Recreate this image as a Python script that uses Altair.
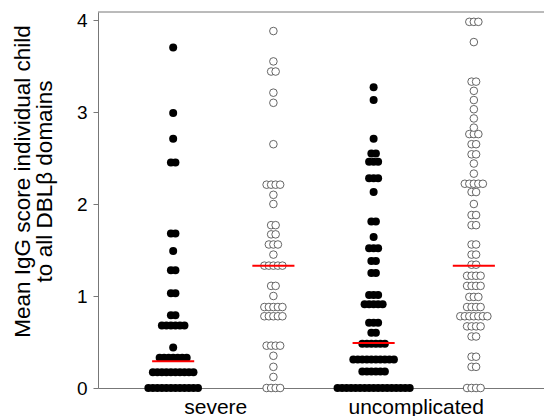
import altair as alt
import pandas as pd

# ---- data ----
group_positions = [0, 1, 2, 3]
group_kinds = ["filled", "open", "filled", "open"]

severe_filled_values = [0.0, 0.17, 0.33, 0.44, 0.68, 0.79, 1.03, 1.28, 1.49, 1.68, 2.45, 2.71, 2.99, 3.70]
severe_filled_counts = [12, 10, 7, 1, 6, 2, 2, 2, 1, 2, 2, 1, 1, 1]

severe_open_values = [0.0, 0.12, 0.23, 0.35, 0.46, 0.78, 0.88, 1.0, 1.11, 1.33, 1.45, 1.56, 1.67, 1.77,
                      2.0, 2.10, 2.21, 2.65, 3.10, 3.21, 3.44, 3.55, 3.88]
severe_open_counts = [4, 1, 1, 1, 4, 5, 5, 1, 2, 5, 1, 3, 2, 2,
                      1, 1, 4, 1, 1, 1, 2, 1, 1]

uncomp_filled_values = [0.0, 0.18, 0.31, 0.48, 0.60, 0.71, 0.91, 1.01, 1.25, 1.38, 1.52, 1.64, 1.81,
                        2.13, 2.28, 2.46, 2.55, 2.71, 3.13, 3.27]
uncomp_filled_counts = [17, 6, 10, 6, 2, 3, 5, 3, 2, 2, 3, 1, 2,
                        1, 3, 3, 2, 1, 1, 1]

uncomp_open_values = [0.0, 0.23, 0.34, 0.56, 0.67, 0.78, 0.88, 0.99, 1.11, 1.22, 1.34, 1.45, 1.56,
                      1.77, 1.88, 2.0, 2.13, 2.22, 2.33, 2.44, 2.54, 2.65, 2.76, 2.83, 2.93,
                      3.03, 3.13, 3.23, 3.33, 3.76, 3.98]
uncomp_open_counts = [4, 2, 2, 2, 4, 7, 4, 3, 4, 4, 2, 2, 2,
                      2, 2, 1, 2, 5, 1, 1, 2, 2, 3, 1, 1,
                      1, 1, 1, 2, 1, 3]

median_values = [0.29, 1.33, 0.49, 1.33]

x_label_positions = [0.42, 2.42]
x_labels = ["severe", "uncomplicated"]
y_ticks = [0, 1, 2, 3, 4]
y_title = ["Mean IgG score individual child", "to all DBL\u03b2 domains"]

# ---- build tables ----
all_values = [severe_filled_values, severe_open_values, uncomp_filled_values, uncomp_open_values]
all_counts = [severe_filled_counts, severe_open_counts, uncomp_filled_counts, uncomp_open_counts]
rows = []
for g, kind, vals, cnts in zip(group_positions, group_kinds, all_values, all_counts):
    for v, c in zip(vals, cnts):
        for _ in range(c):
            rows.append({"group": g, "kind": kind, "value": v})
df = pd.DataFrame(rows)
med_df = pd.DataFrame({"group": group_positions, "median": median_values})

FONT = "Liberation Sans"
AX = "#777777"
YMAX = 4.087

x_scale = alt.Scale(domain=[-0.75, 3.7], nice=False, zero=False)
y_scale = alt.Scale(domain=[0, YMAX], nice=False, zero=True)

label_expr = f"datum.value < 1 ? '{x_labels[0]}' : '{x_labels[1]}'"
x_axis = alt.Axis(values=x_label_positions, labelExpr=label_expr, ticks=False, grid=False,
                  domainColor=AX, labelFontSize=21, labelFont=FONT, labelColor="black",
                  labelPadding=8, title=None, labelOverlap=False)
y_axis = alt.Axis(values=y_ticks, format="d", grid=False, domainColor=AX, tickColor=AX,
                  tickSize=5, labelFontSize=19, labelFont=FONT, labelColor="black",
                  labelPadding=6, title=y_title, titleFont=FONT, titleFontSize=22.5,
                  titleFontWeight="normal", titleColor="black", titleAngle=270,
                  titleAlign="center", titleBaseline="middle", titleX=-76, titleY=169,
                  titleLineHeight=22.5)

base = alt.Chart(df).transform_window(
    idx="row_number()", groupby=["group", "value"]
).transform_joinaggregate(
    n="count()", groupby=["group", "value"]
).transform_calculate(
    slot="datum.idx - (datum.n + 1) / 2",
    xpos="datum.group + (datum.idx - (datum.n + 1) / 2) * 0.045"
)

filled = base.transform_filter("datum.kind == 'filled'").mark_circle(
    color="black", size=64, opacity=1
).encode(
    x=alt.X("xpos:Q", scale=x_scale, axis=x_axis),
    y=alt.Y("value:Q", scale=y_scale, axis=y_axis),
    order=alt.Order("slot:Q"),
)

open_pts = base.transform_filter("datum.kind == 'open'").mark_point(
    shape="circle", filled=True, fill="white", stroke="#555555", strokeWidth=0.9,
    size=58, opacity=1
).encode(
    x=alt.X("xpos:Q", scale=x_scale, axis=x_axis),
    y=alt.Y("value:Q", scale=y_scale, axis=y_axis),
    order=alt.Order("slot:Q"),
)

med = alt.Chart(med_df).transform_calculate(
    xa="datum.group - 0.21", xb="datum.group + 0.21"
).mark_rule(color="#ff0000", strokeWidth=2).encode(
    x=alt.X("xa:Q", scale=x_scale, axis=x_axis),
    x2="xb:Q",
    y=alt.Y("median:Q", scale=y_scale, axis=y_axis),
)

top_line = alt.Chart(pd.DataFrame({"t": [0]})).mark_rule(
    color=AX, strokeWidth=1
).encode(y=alt.value(0))

chart = alt.layer(filled, open_pts, med, top_line).properties(
    width=446, height=376,
    autosize=alt.AutoSizeParams(type="none"),
    padding={"left": 98, "top": 12, "right": 0, "bottom": 28},
    background="white",
).configure_view(stroke=None)

chart.save("out.html", embed_options={"renderer": "svg", "actions": False})
